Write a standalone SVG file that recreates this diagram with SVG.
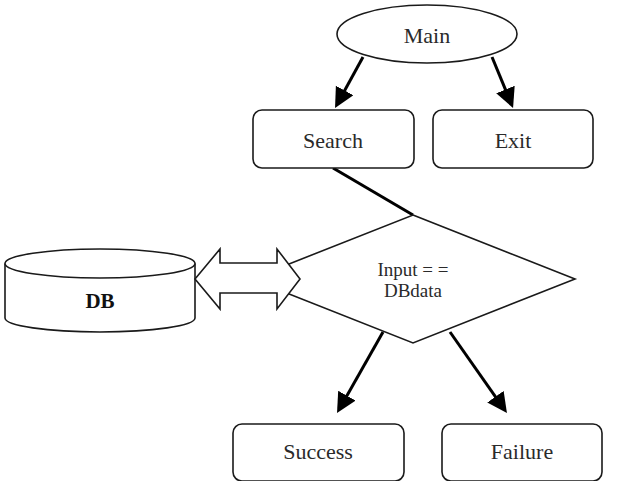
<svg xmlns="http://www.w3.org/2000/svg" width="617" height="481" viewBox="0 0 617 481">
<style>
.shape{fill:#fff;stroke:#1a1a1a;stroke-width:1.6}
.lbl{font-family:"Liberation Serif","Times New Roman",serif;font-size:22px;fill:#2a2a2a;text-anchor:middle}
.small{font-size:19px}
.bold{font-weight:bold;font-size:21px;fill:#111}
.conn{stroke:#000;stroke-width:3;fill:none}
</style>
<defs>
<marker id="ah" markerUnits="userSpaceOnUse" markerWidth="22" markerHeight="22" refX="2" refY="10" orient="auto" viewBox="0 0 22 22">
<path d="M0,0 L20,10 L0,20 z" fill="#000"/>
</marker>
</defs>
<rect width="617" height="481" fill="#fff"/>
<g id="connectors">
<line class="conn" x1="363" y1="57" x2="343.7" y2="92.2" marker-end="url(#ah)"/>
<line class="conn" x1="492" y1="57" x2="506.2" y2="91.4" marker-end="url(#ah)"/>
<line class="conn" x1="333" y1="168" x2="413" y2="215"/>
<line class="conn" x1="383" y1="332" x2="345.9" y2="397.4" marker-end="url(#ah)"/>
<line class="conn" x1="450" y1="332" x2="496.6" y2="398.3" marker-end="url(#ah)"/>
</g>
<g id="main">
<ellipse class="shape" cx="427" cy="34" rx="90" ry="29"/>
<text class="lbl" x="427" y="43">Main</text>
</g>
<g id="search">
<rect class="shape" x="253" y="110" width="161" height="58" rx="9"/>
<text class="lbl" x="333" y="148">Search</text>
</g>
<g id="exit">
<rect class="shape" x="433" y="110" width="160" height="58" rx="9"/>
<text class="lbl" x="513" y="148">Exit</text>
</g>
<g id="decision">
<polygon class="shape" points="413,215 575,279 413,343 251,279"/>
<text class="lbl small" x="413" y="276">Input = =</text>
<text class="lbl small" x="413" y="297">DBdata</text>
</g>
<g id="db">
<path class="shape" d="M5,263.5 L5,318 A95,14 0 0 0 195,318 L195,263.5"/>
<ellipse class="shape" cx="100" cy="263.5" rx="95" ry="14.5"/>
<text class="lbl bold" x="100" y="308">DB</text>
</g>
<g id="link">
<polygon class="shape" points="195,279 220,249 220,263 277,263 277,249 300,279 277,309 277,293 220,293 220,309"/>
</g>
<g id="success">
<rect class="shape" x="233" y="424" width="171" height="57" rx="9"/>
<text class="lbl" x="318" y="459">Success</text>
</g>
<g id="failure">
<rect class="shape" x="442" y="424" width="160" height="57" rx="9"/>
<text class="lbl" x="522" y="459">Failure</text>
</g>
</svg>
